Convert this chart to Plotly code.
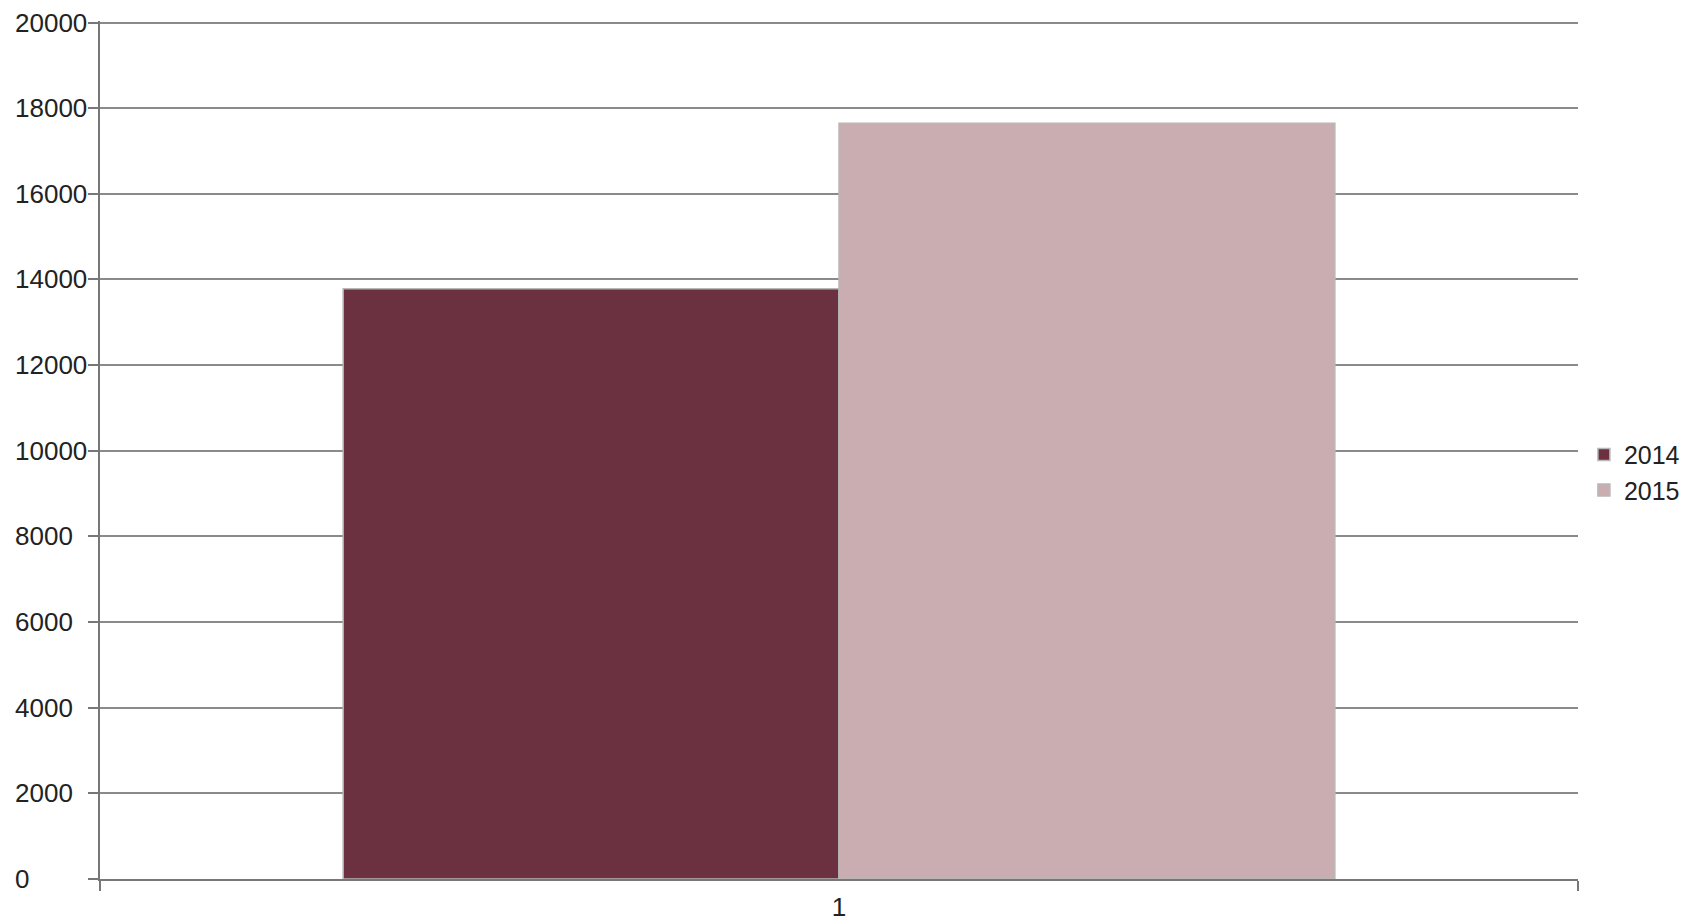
import plotly.graph_objects as go

categories = ["1"]
series_names = ["2014", "2015"]
values_2014 = [13780]
values_2015 = [17650]
y_ticks = [0, 2000, 4000, 6000, 8000, 10000, 12000, 14000, 16000, 18000, 20000]
y_tick_labels = [str(v) for v in y_ticks]

colors = {"2014": "#6b3140", "2015": "#c9adb1"}

fig = go.Figure()
for name, vals in zip(series_names, [values_2014, values_2015]):
    fig.add_trace(go.Bar(
        x=categories, y=vals, name=name,
        marker=dict(color=colors[name], line=dict(color="#b8b8b8", width=1.5)),
    ))

font_family = "Liberation Sans, Arial, sans-serif"
fs = 26
fig.update_layout(
    width=1690, height=921,
    margin=dict(l=100, r=112, t=21, b=42, autoexpand=False),
    paper_bgcolor="white", plot_bgcolor="white",
    barmode="group", bargap=0.329, bargroupgap=0,
    font=dict(family=font_family, size=fs, color="#222222"),
    showlegend=True,
    legend=dict(x=1.004, xanchor="left", y=0.474, yanchor="middle",
                font=dict(size=25, color="#222222"), bgcolor="rgba(0,0,0,0)",
                tracegroupgap=0, borderwidth=0),
    xaxis=dict(type="category", range=[-0.5, 0.5], showline=True, linecolor="#777777",
               linewidth=2, ticks="outside", tickson="boundaries", ticklen=10,
               tickwidth=2, tickcolor="#777777", showgrid=False, zeroline=False,
               ticklabelstandoff=4,
               tickfont=dict(size=fs, color="#222222")),
    yaxis=dict(range=[0, 20035], tickmode="array", tickvals=y_ticks, ticktext=[""] * len(y_ticks),
               showline=True, linecolor="#777777",
               linewidth=2, ticks="outside", ticklen=10, tickwidth=2, tickcolor="#777777",
               showgrid=True, gridcolor="#8a8a8a", gridwidth=2, zeroline=False),
)

# left-aligned y tick labels, as in the reference
for v, t in zip(y_ticks, y_tick_labels):
    fig.add_annotation(x=-0.0589, xref="paper", y=v, yref="y", text=t,
                       xanchor="left", yanchor="middle", showarrow=False,
                       font=dict(size=fs, color="#222222", family=font_family))

fig.write_html("out.html")
